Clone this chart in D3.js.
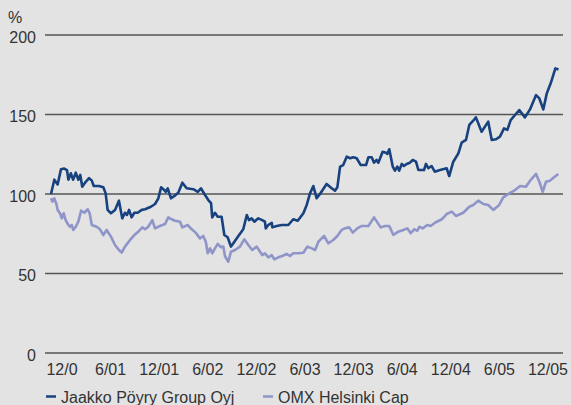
<!DOCTYPE html>
<html><head><meta charset="utf-8">
<script src="https://cdn.jsdelivr.net/npm/d3@7"></script>
<style>body{margin:0;background:#e3e3e3;overflow:hidden}text{font-family:"Liberation Sans",Arial,sans-serif}</style>
</head><body><svg id="c" width="571" height="405"></svg>
<script>
const yTicks=[0,50,100,150,200];
const xLabels=["12/0","6/01","12/01","6/02","12/02","6/03","12/03","6/04","12/04","6/05","12/05"];
const seriesNames=["Jaakko Pöyry Group Oyj","OMX Helsinki Cap"];
const seriesColors=["#17427f","#8f95c8"];
// weeks since start of Dec 2000
const jpWeeks=[0,1.7,3.4,5.1,6.8,8.2,8.9,10.2,11.3,12.7,14.0,15.0,16.0,17.8,19.5,20.9,21.9,24.6,26.8,28.0,29.0,30.7,32.8,34.8,36.5,37.9,38.9,40.0,41.3,42.7,44.4,46.5,48.2,51.2,53.3,55.0,56.4,57.7,58.8,59.8,60.5,61.5,63.5,65.2,67.3,69.5,72.9,75.2,76.8,78.9,80.6,82.0,82.6,84.0,85.4,87.4,88.8,90.5,92.2,93.6,96.0,98.5,100.3,101.4,102.8,104.2,106.2,108.2,109.6,110.0,111.3,113.1,113.4,115.6,118.2,121.6,124.1,126.4,129.3,131.0,132.7,134.4,136.1,137.8,141.2,143.8,145.5,146.7,148.1,149.7,151.5,153.2,154.9,156.6,158.7,161.4,162.6,164.3,165.5,166.8,167.7,169.9,171.6,172.3,173.3,175.1,176.2,177.4,178.4,179.7,180.8,182.2,183.9,185.3,187.0,188.2,191.1,192.1,193.3,195.0,196.6,199.3,202.7,204.0,206.1,208.7,210.4,212.6,214.3,216.3,217.7,220.6,224.0,225.8,228.0,230.0,232.1,233.8,235.5,237.7,239.9,242.8,245.4,248.5,250.2,252.2,254.0,256.0,258.4,260];
const jpValues=[100,109,106,115.5,116,115,109,113,109,113.4,109,112,104.6,107.7,110,108.4,105,105,104.2,100.4,90,87.9,90,95.8,84.7,88.2,86.8,90,85.3,88.2,88.2,90,90.4,92,93.7,97.3,104.2,102.9,101.4,103.5,100.8,97.3,99,100.8,107.1,103.6,103,101.4,103.6,99.4,96.2,94.2,85.3,88.2,85.7,85.7,74.2,72.8,66.9,69.4,73.6,77.8,86.8,83.6,84.7,82.6,84.7,83.6,82.6,78.4,80.5,81.9,79,79.9,80.5,80.5,84.1,83.2,87.9,93.1,100.4,105,97.3,100,106.3,103.6,102.1,104.2,117.2,118.2,123.5,122.5,123.1,122.5,118.2,118.2,123.1,123.1,119.7,121.4,119.7,126.6,126,125.2,128.1,117.2,114.7,117.2,114.7,118.9,117.6,118.9,119.7,121.4,120.3,115.1,115.1,118.9,116.2,117.6,114,115.1,116.2,111.3,120.3,125.6,132.3,134,143.4,146.1,148.2,139.2,145.5,134,134.4,136.1,141.3,140.3,146.5,149.7,152.8,148.2,153.2,162.2,160.1,153.2,163.3,169.6,179,178.3];
const omxWeeks=[0,0.7,1.7,2.9,3.4,4.6,5.5,6.5,7.5,8.9,9.7,10.6,11.4,12.7,14.0,15.4,17.1,18.8,19.8,20.9,23.4,25.1,26.8,28.5,30.7,32.8,34.8,36.2,37.9,40.5,42.7,44.7,46.8,48.2,49.8,51.9,53.3,55.8,58.4,60.1,61.8,63.5,66.1,67.3,70.0,72.1,74.1,76.3,78.0,79.3,80.3,81.5,82.6,83.7,85.4,87.1,88.3,89.1,90.8,92.2,94.3,96.8,99.0,101.1,103.1,105.4,107.1,108.2,109.6,111.3,113.1,114.4,116.4,118.5,120.7,122.4,124.1,126.4,129.3,131.3,133.6,135.3,137.0,139.9,142.1,144.6,146.7,148.9,150.6,152.8,154.6,156.9,159.2,162.6,165.5,168.9,171.1,173.3,175.4,177.9,180.5,182.5,184.3,186.0,187.7,188.7,190.4,192.8,194.5,196.7,200.2,202.7,205.3,207.5,211.2,214.3,216.3,218.9,221.5,224.0,226.6,229.6,231.7,234.8,237.7,240.3,243.3,245.7,248.5,250.2,251.9,253.6,255.6,257.7,259.9];
const omxValues=[97.3,95.2,97.3,93.1,90,87.9,84.7,87.9,83.6,80.5,79.4,80.5,77.4,79.4,82.6,89.5,88.2,90.4,87.9,80.5,79.4,77.8,74.2,77.4,73.2,67.9,64.8,63.1,66.9,71.1,74.2,76.3,79,77.8,79.4,83.6,78.4,79.9,81.1,85.3,84.1,83.2,82.6,79,80.5,77.8,75.7,72.1,73.6,70,62.7,65.8,62.7,65.2,68.6,66.5,66.9,61,57.4,63.7,64.8,66.9,71.5,67.9,64.8,66.9,63.7,61.6,62.7,60.2,61.6,58.9,60.2,61,62.3,61,62.7,62.7,63.1,66.9,65.8,64.8,70,73.6,69,71.1,73.6,77.4,78.4,79,75.7,78.4,79.9,79.9,85.3,79,79.9,79.9,74.2,76.3,77.4,78.4,75.3,77.8,76.9,79.4,78.4,80.5,79.9,81.9,84.1,87.4,88.9,86.2,88.2,92,93.1,95.8,93.7,93.1,90,93.1,97.9,100.4,102.5,105,104.6,108.8,112.6,107.7,101.4,107.7,108.4,110.5,112.6];

const svg=d3.select("#c");
const W=571,H=405;
svg.append("rect").attr("width",W).attr("height",H).attr("fill","#e3e3e3");
const y=d3.scaleLinear().domain([0,200]).range([353,35]);
const x=d3.scaleLinear().domain([0,260]).range([51,558.5]);
const xl=d3.scalePoint().domain(xLabels).range([62,548]);
const textColor="#333";

// gridlines
svg.append("g").selectAll("line").data(yTicks).join("line")
  .attr("x1",45).attr("x2",563)
  .attr("y1",d=>y(d)).attr("y2",d=>y(d))
  .attr("stroke","#555").attr("stroke-width",1.7);
// y labels
svg.append("g").selectAll("text").data(yTicks).join("text")
  .attr("x",36).attr("y",d=>y(d)+2).attr("dy","0.35em")
  .attr("text-anchor","end").attr("font-size",16).attr("fill",textColor)
  .text(d=>d);
svg.append("text").attr("x",8).attr("y",23).attr("font-size",16).attr("fill",textColor).text("%");
// x labels
svg.append("g").selectAll("text").data(xLabels).join("text")
  .attr("x",d=>xl(d)).attr("y",375).attr("text-anchor","middle")
  .attr("font-size",16).attr("fill",textColor).text(d=>d);

const line=d3.line().x(d=>x(d[0])).y(d=>y(d[1]));
const omx=d3.zip(omxWeeks,omxValues);
const jp=d3.zip(jpWeeks,jpValues);
svg.append("path").datum(omx).attr("d",line).attr("fill","none")
  .attr("stroke",seriesColors[1]).attr("stroke-width",2.6).attr("stroke-linejoin","round");
svg.append("path").datum(jp).attr("d",line).attr("fill","none")
  .attr("stroke",seriesColors[0]).attr("stroke-width",2.6).attr("stroke-linejoin","round");

// legend
const legX=[46,263];
seriesNames.forEach((n,i)=>{
  svg.append("line").attr("x1",legX[i]).attr("x2",legX[i]+10).attr("y1",396.5).attr("y2",396.5)
    .attr("stroke",seriesColors[i]).attr("stroke-width",2.5);
  svg.append("text").attr("x",legX[i]+15).attr("y",403).attr("font-size",16).attr("fill",textColor).text(n);
});
</script></body></html>
